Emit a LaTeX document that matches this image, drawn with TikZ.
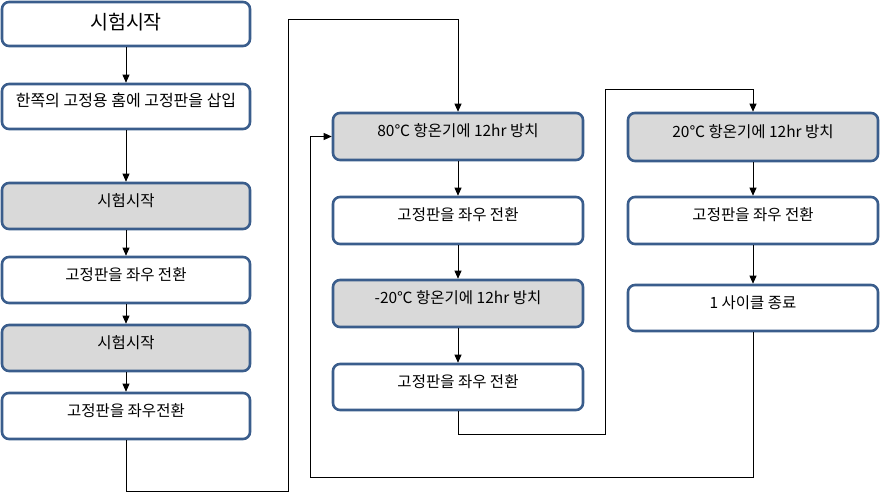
\documentclass[tikz,border=0pt]{standalone}
\usepackage{fontspec}
\setmainfont{Noto Sans CJK KR}
\usetikzlibrary{arrows.meta}
\definecolor{boxblue}{RGB}{58,93,140}
\definecolor{boxgray}{RGB}{217,217,217}
\tikzset{
  stepbox/.style={draw=boxblue, line width=2.6pt, rounded corners=7pt, fill=white,
    font=\fontsize{15.5}{17}\selectfont, text height=10pt, text depth=10pt, inner sep=0pt},
  graybox/.style={stepbox, fill=boxgray},
  arr/.style={draw=black, line width=0.8pt, -{Triangle[length=8pt,width=7pt]}}
}
\begin{document}
\begin{tikzpicture}[x=1pt,y=-1pt]
\useasboundingbox (0,0) rectangle (880,492);
% column 1
\node[stepbox, minimum width=248pt, minimum height=44pt, font=\fontsize{19.5}{22}\selectfont, text height=20pt, text depth=8pt] (b1) at (126,24) {시험시작};
\node[stepbox, minimum width=248pt, minimum height=45pt, font=\fontsize{16}{18}\selectfont] (b2) at (126,106.5) {한쪽의 고정용 홈에 고정판을 삽입};
\node[graybox, minimum width=248pt, minimum height=46pt] (b3) at (126,206) {시험시작};
\node[stepbox, minimum width=248pt, minimum height=46pt] (b4) at (126,280) {고정판을 좌우 전환};
\node[graybox, minimum width=248pt, minimum height=46pt] (b5) at (126,348) {시험시작};
\node[stepbox, minimum width=248pt, minimum height=46pt] (b6) at (126,416) {고정판을 좌우전환};
% column 2
\node[graybox, minimum width=250pt, minimum height=47pt] (c1) at (458,136.5) {80℃ 항온기에 12hr 방치};
\node[stepbox, minimum width=250pt, minimum height=47pt] (c2) at (458,220.5) {고정판을 좌우 전환};
\node[graybox, minimum width=250pt, minimum height=47pt] (c3) at (458,303.5) {-20℃ 항온기에 12hr 방치};
\node[stepbox, minimum width=250pt, minimum height=46pt] (c4) at (458,387) {고정판을 좌우 전환};
% column 3
\node[graybox, minimum width=250pt, minimum height=48pt] (d1) at (753,137) {20℃ 항온기에 12hr 방치};
\node[stepbox, minimum width=250pt, minimum height=47pt] (d2) at (753,220.5) {고정판을 좌우 전환};
\node[stepbox, minimum width=250pt, minimum height=46pt] (d3) at (753,308) {1 사이클 종료};
% route points
\coordinate (p1) at (288,491);
\coordinate (p2) at (458,19);
\coordinate (q1) at (605,434);
\coordinate (q2) at (753,89);
\coordinate (r1) at (310,477);
% connectors
\draw[arr] (b1) -- (b2);
\draw[arr] (b2) -- (b3);
\draw[arr] (b3) -- (b4);
\draw[arr] (b4) -- (b5);
\draw[arr] (b5) -- (b6);
\draw[arr] (b6.south) |- (p1) |- (p2) -- (c1.north);
\draw[arr] (c1) -- (c2);
\draw[arr] (c2) -- (c3);
\draw[arr] (c3) -- (c4);
\draw[arr] (c4.south) |- (q1) |- (q2) -- (d1.north);
\draw[arr] (d1) -- (d2);
\draw[arr] (d2) -- (d3);
\draw[arr] (d3.south) |- (r1) |- (c1.west);
\end{tikzpicture}
\end{document}
